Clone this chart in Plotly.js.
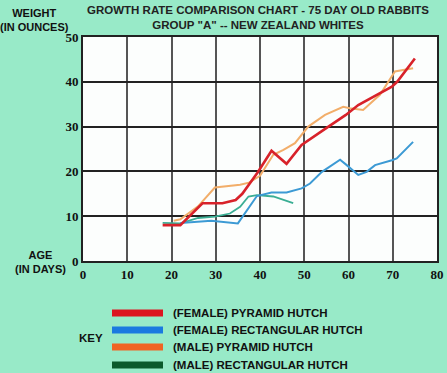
<!DOCTYPE html>
<html>
<head>
<meta charset="utf-8">
<script src="https://cdn.plot.ly/plotly-3.0.1.min.js"></script>
<style>html,body{margin:0;padding:0;background:#98eac8;}</style>
</head>
<body>
<div id="chart" style="width:447px;height:373px;"></div>
<script>
// ---- data ----
var seriesNames = ["(FEMALE) PYRAMID HUTCH", "(FEMALE) RECTANGULAR HUTCH", "(MALE) PYRAMID HUTCH", "(MALE) RECTANGULAR HUTCH"];

var femalePyramidAge = [18, 22, 27, 31.5, 34.5, 36, 39.5, 42.6, 46, 49.4, 54.3, 59.4, 62.2, 69.8, 71, 75];
var femalePyramidWt  = [8.0, 8.0, 12.9, 12.9, 13.6, 15, 19.8, 24.6, 21.7, 25.9, 29.2, 32.6, 34.8, 38.9, 40.0, 45.2];

var femaleRectAge = [22, 29, 35, 39.3, 42.6, 46, 49.4, 51.3, 54, 58.1, 59.6, 62.2, 64.1, 66, 69.8, 70.9, 74.6];
var femaleRectWt  = [8.5, 9.0, 8.4, 14.5, 15.3, 15.3, 16.2, 17.3, 19.9, 22.6, 21.4, 19.2, 19.9, 21.4, 22.5, 22.9, 26.6];

var malePyramidAge = [20.5, 22, 26, 29.8, 35.5, 37.5, 40, 43, 45.3, 47.9, 50.9, 54.7, 58.8, 60.3, 63.3, 67.1, 70.5, 72.4, 74.6];
var malePyramidWt  = [9.0, 9.3, 12.2, 16.4, 17.0, 17.5, 19.0, 23.7, 24.8, 26.3, 30.0, 32.6, 34.4, 34.1, 33.7, 37.1, 42.3, 42.6, 43.0];

var maleRectAge = [18, 22, 26, 29.8, 33.2, 35.5, 37.4, 39.3, 43, 45.3, 47.5];
var maleRectWt  = [8.5, 8.4, 9.6, 9.9, 10.6, 12.1, 14.4, 14.7, 14.4, 13.6, 12.9];

var xTicks = [0, 10, 20, 30, 40, 50, 60, 70, 80];
var yTicks = [0, 10, 20, 30, 40, 50];

// ---- styles ----
var lineColors   = ["#d8222a", "#3c9ad4", "#f2ae6a", "#3aae94"];
var lineWidths   = [2.6, 2, 2, 1.8];
var swatchColors = ["#dc1520", "#1a7ae0", "#f06424", "#0b5a2c"];

var L = 83, R = 437, T = 37, B = 261;
function px2x(px){ return (px - L) / (R - L); }
function px2y(py){ return (B - py) / (B - T); }

var fontNarrow = "'Liberation Sans Narrow', 'Arial Narrow', 'Liberation Sans', Arial, sans-serif";
var fontSerif = "'Liberation Serif', 'Times New Roman', serif";

var xs = [femalePyramidAge, femaleRectAge, malePyramidAge, maleRectAge];
var ys = [femalePyramidWt, femaleRectWt, malePyramidWt, maleRectWt];
var order = [3, 1, 2, 0];
var traces = order.map(function(i){
  return {
    x: xs[i], y: ys[i], type: "scatter", mode: "lines", name: seriesNames[i],
    line: {color: lineColors[i], width: lineWidths[i]}, showlegend: false,
    hoverinfo: "x+y+name"
  };
});

var shapes = [];
var annotations = [];
var legendY = [313, 330, 347, 365];
seriesNames.forEach(function(n, i){
  shapes.push({type: "rect", xref: "paper", yref: "paper",
    x0: px2x(112), x1: px2x(163), y0: px2y(legendY[i] + 3.5), y1: px2y(legendY[i] - 3.5),
    fillcolor: swatchColors[i], line: {width: 0}});
  annotations.push({xref: "paper", yref: "paper", x: px2x(171), y: px2y(legendY[i]),
    xanchor: "left", yanchor: "middle", showarrow: false, text: "<b>" + n + "</b>",
    font: {family: fontNarrow, size: 11.5, color: "#111"}});
});
annotations.push({xref: "paper", yref: "paper", x: px2x(91), y: px2y(338), xanchor: "center", yanchor: "middle",
  showarrow: false, text: "<b>KEY</b>", font: {family: fontNarrow, size: 11.5, color: "#111"}});
annotations.push({xref: "paper", yref: "paper", x: px2x(34), y: px2y(20), xanchor: "center", yanchor: "middle",
  showarrow: false, text: "<b>WEIGHT<br>(IN OUNCES)</b>", font: {family: fontNarrow, size: 11, color: "#111"}});
annotations.push({xref: "paper", yref: "paper", x: px2x(40), y: px2y(262), xanchor: "center", yanchor: "middle",
  showarrow: false, text: "<b>AGE<br>(IN DAYS)</b>", font: {family: fontNarrow, size: 11, color: "#111"}});
annotations.push({xref: "paper", yref: "paper", x: px2x(258), y: px2y(17), xanchor: "center", yanchor: "middle",
  showarrow: false, text: "<b>GROWTH RATE COMPARISON CHART - 75 DAY OLD RABBITS<br>GROUP \"A\" -- NEW ZEALAND WHITES</b>",
  font: {family: fontNarrow, size: 11.5, color: "#222"}});

var layout = {
  width: 447, height: 373,
  margin: {l: L, r: 447 - R, t: T, b: 373 - B, pad: 0},
  paper_bgcolor: "#98eac8",
  plot_bgcolor: "#fcfefd",
  showlegend: false,
  xaxis: {range: [0, 80], tickvals: xTicks, ticktext: xTicks.map(String), showgrid: true, gridcolor: "#555", gridwidth: 2,
    zeroline: false, showline: true, linecolor: "#222", linewidth: 2, mirror: true, ticks: "", ticklen: 0,
    tickfont: {family: fontSerif, size: 13, color: "#111", weight: "bold"}, fixedrange: true},
  yaxis: {range: [0, 50], tickvals: yTicks, ticktext: yTicks.map(String), showgrid: true, gridcolor: "#222", gridwidth: 2,
    zeroline: false, showline: true, linecolor: "#222", linewidth: 2, mirror: true, ticks: "", ticklen: 0,
    tickfont: {family: fontSerif, size: 13, color: "#111", weight: "bold"}, fixedrange: true},
  shapes: shapes,
  annotations: annotations
};

Plotly.newPlot("chart", traces, layout, {displayModeBar: false});
</script>
</body>
</html>
